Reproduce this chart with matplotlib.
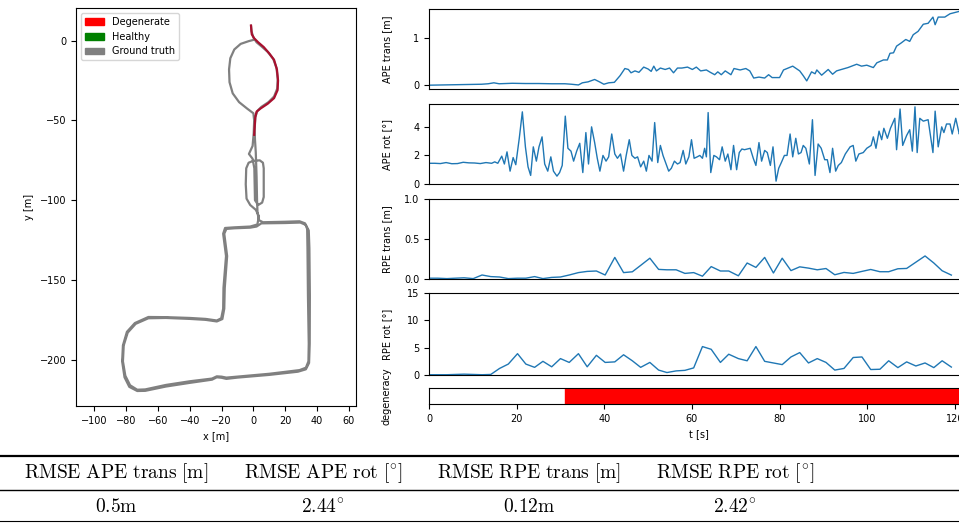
import matplotlib
matplotlib.use("Agg")
import matplotlib.pyplot as plt
from matplotlib.patches import Patch

plt.rcParams['font.family'] = ['DejaVu Sans']
plt.rcParams['font.size'] = 7
plt.rcParams['mathtext.fontset'] = 'cm'

# ---------------- data ----------------
# ground-truth trajectory (x, y) [m]
gt_x = [-1.5, -1.2, 0, 2, 5, 9, 12.5, 14.5, 15.3, 15, 13, 9.5, 5, 2.5, 1.2, 0.8, 1,
        1.5, 2, 2.3, 2.6, 3.5, 6,
        20, 29, 32.5, 33.8, 34, 34.3, 34.8, 34.6, 33, 29, 10, -10, -17, -20, -23, -26, -40, -55, -68, -73,
        -77.5, -80.5, -82, -81.5, -79, -74, -66, -55, -40, -30, -23, -19.5, -18.3, -18, -17, -16.5, -17.5,
        -18.3, -17, -12, -2, 2, 5,
        20, 29.5, 33, 34.8, 35.2, 35.5, 35.4, 35, 33, 28, 10, -10, -17, -20, -23, -26, -40, -55, -68, -73,
        -78, -81, -82.5, -82, -79.5, -74.5, -66, -55, -40, -30, -23, -20.2, -19, -18.8, -17.8, -17.2, -18.2,
        -19, -17.8, -12, -2, 2.5,
        3.5, 1.5, -2, -4.3, -4.8, -4.5, -3, 0, 4, 6, 6.5, 6.5, 5.5, 3, 1, 0.8, 0.6, -0.5, -2.8, -0.5, 0.2,
        0.5, 0,
        -4, -9, -13, -15, -15.3, -14.5, -12, -8, -3, 0]
gt_y = [9.5, 6, 2, -1, -3.5, -7, -11.5, -17, -24, -30, -35, -38.5, -41.5, -44, -48, -56, -62,
        -70, -85, -100, -108, -112.5, -113.8,
        -113.5, -113.2, -114.5, -118, -130, -160, -190, -201, -205, -206.5, -208.8, -210.6, -211.2, -210.6,
        -210.4, -211.8, -213.5, -215.8, -218.6, -218.8,
        -216, -210, -201, -191, -183, -177.5, -174, -173.8, -174.4, -175, -176, -174.5, -168, -155, -142,
        -135, -127, -121, -118, -117.6, -117.2, -116.5, -114.5,
        -114.3, -114, -115.5, -119, -130, -160, -190, -202, -206, -207.5, -209.5, -211.2, -212, -211.3,
        -211, -212.5, -214.5, -216.8, -219.5, -219.6,
        -217, -211, -201, -191, -182.5, -177, -173.2, -173.3, -173.8, -174.4, -175.4, -174, -168, -155, -142,
        -135, -127, -121, -117.4, -117, -116.5, -115.2,
        -110, -106, -103, -99, -90, -80, -76.5, -75.3, -75, -76.5, -80, -98, -101.5, -103, -100, -90, -80,
        -74, -71, -66, -58, -50, -45.5,
        -42.5, -38.5, -33, -26, -18, -11, -5.5, -2, -0.3, 0.5]

# estimated trajectory in degenerate state (x, y) [m]
deg_x = [-1.5, -1.3, -1, 0.5, 3, 6.5, 10, 13, 14.8, 15.5, 15.2, 13, 9, 4.5, 2, 1.2, 0.8, 0.5]
deg_y = [9.5, 7, 4, 1.5, -1, -4, -8, -12, -18, -25, -31, -36, -39.5, -42.5, -44.5, -48, -54, -59]

# APE translation [m]
ape_trans_t = [0, 3, 6, 9, 12, 13.5, 14.8, 16, 19, 22, 25, 28, 31, 32.5, 34.1, 35, 36.3, 37.8, 38.9,
               39.9, 41, 42.3, 43.6, 44.7, 45.5, 46.1, 47, 47.9, 49, 50, 50.7, 51.3, 51.9, 52.8, 53.9,
               54.9, 55.8, 56.7, 57.7, 59, 60.1, 61, 62, 63.3, 64.2, 65.2, 65.9, 66.7, 67.6, 68.9, 69.6,
               71, 72.3, 73.2, 74.1, 75.3, 76.6, 77.5, 78.3, 80, 80.9, 81.7, 83, 84.6, 85.4, 86.2, 87.3,
               88.1, 88.5, 89.6, 91.1, 92.1, 93, 94.1, 95.6, 97.6, 98.7, 99.9, 101.4, 102.2, 103.7,
               104.6, 105.2, 106, 106.7, 107.8, 108.8, 109.7, 110.5, 111.6, 112.8, 113.9, 115, 115.5,
               116.2, 117.7, 118.9, 121, 123]
ape_trans = [0.0, 0.005, 0.01, 0.015, 0.02, 0.03, 0.05, 0.03, 0.04, 0.035, 0.035, 0.03, 0.03, 0.02,
             0.005, 0.05, 0.07, 0.12, 0.07, 0.02, 0.05, 0.06, 0.2, 0.35, 0.33, 0.26, 0.3, 0.27, 0.38,
             0.34, 0.29, 0.4, 0.3, 0.36, 0.33, 0.36, 0.26, 0.36, 0.36, 0.38, 0.33, 0.38, 0.3, 0.32,
             0.27, 0.22, 0.28, 0.22, 0.3, 0.22, 0.35, 0.32, 0.35, 0.3, 0.15, 0.17, 0.15, 0.22, 0.16,
             0.16, 0.32, 0.35, 0.4, 0.30, 0.2, 0.09, 0.28, 0.24, 0.32, 0.21, 0.33, 0.23, 0.30, 0.33,
             0.37, 0.44, 0.40, 0.42, 0.37, 0.47, 0.53, 0.53, 0.67, 0.68, 0.82, 0.89, 0.96, 0.92, 1.06,
             1.13, 1.28, 1.30, 1.43, 1.27, 1.43, 1.43, 1.5, 1.55, 1.57]

# APE rotation [deg]
ape_rot_t = [0, 1.3, 2.6, 3.9, 5.2, 6.5, 7.8, 9.1, 10.4, 11.7, 13.0, 14.3, 15.0, 15.7,
             16.6, 17.2, 17.8, 18.5, 19.2, 19.8, 20.6, 21.3, 22.0, 22.6, 23.2, 23.8, 24.5, 25.1,
             25.8, 26.4, 27.1, 27.8, 28.4, 29.2, 29.8, 30.4, 31.1, 31.7, 32.4, 33.0, 33.7, 34.4,
             35.1, 35.8, 36.4, 37.1, 37.8, 38.4, 39.0, 39.7, 40.4, 41.0, 41.7, 42.4, 43.0, 43.7,
             44.4, 45.0, 45.7, 46.3, 47.0, 47.6, 48.3, 49.0, 49.6, 50.2, 50.9, 51.5, 52.2, 52.8,
             53.4, 54.0, 54.7, 55.3, 56.0, 56.7, 57.3, 58.0, 58.6, 59.3, 59.9, 60.5, 61.2, 61.8,
             62.4, 62.9, 63.3, 63.7, 64.3, 65.0, 65.6, 66.3, 66.9, 67.6, 68.2, 68.9, 69.5, 70.2,
             70.8, 71.4, 72.0, 72.7, 73.3, 74.0, 74.6, 75.3, 75.9, 76.6, 77.2, 77.9, 78.5, 79.2,
             79.8, 80.4, 81.1, 81.7, 82.4, 83.0, 83.7, 84.3,
             84.9, 85.4, 86.0, 86.8, 87.5, 88.1, 88.8, 89.5, 90.3, 90.9, 91.5, 92.1, 92.8, 93.4,
             94.1, 95.0, 96.1, 96.8, 97.4, 98.1, 99.1, 99.9, 100.9, 101.4, 102.0, 102.7, 103.3,
             103.8, 104.6, 105.3, 106.3, 106.7, 107.5, 108.1, 109.0, 109.7, 110.3, 110.9, 111.4,
             112.0, 112.8, 113.9, 115.0, 115.5, 116.2, 117.0, 117.5, 118.1, 118.9, 119.4, 120.2,
             121.0, 121.8]
ape_rot = [1.45, 1.45, 1.43, 1.5, 1.42, 1.43, 1.52, 1.48, 1.47, 1.43, 1.5, 1.45, 1.55, 1.45,
           1.95, 1.4, 2.25, 0.9, 1.85, 1.35, 3.2, 5.05, 2.6, 1.2, 0.6, 2.6, 1.6, 2.6,
           3.3, 1.4, 0.9, 1.9, 0.9, 0.55, 0.8, 1.3, 4.75, 2.5, 2.3, 1.6, 2.3, 2.85,
           0.8, 3.6, 1.4, 4.0, 2.9, 1.8, 0.9, 2.0, 1.6, 1.9, 3.5, 2.1, 1.8, 2.1,
           0.9, 2.0, 3.1, 2.0, 1.8, 1.9, 1.2, 1.6, 0.9, 2.0, 1.6, 4.3, 1.5, 2.7,
           2.0, 1.5, 0.9, 1.1, 1.6, 1.4, 1.5, 2.35, 1.4, 1.9, 3.1, 1.8, 1.9, 2.0,
           1.8, 2.5, 1.9, 5.0, 0.8, 2.0, 1.9, 1.7, 2.6, 1.6, 2.1, 1.0, 2.7, 1.0,
           2.2, 2.45, 2.4, 2.45, 2.5, 1.8, 1.3, 2.9, 1.6, 2.35, 2.2, 1.3, 2.6, 0.2,
           1.1, 1.5, 2.0, 2.0, 3.5, 1.9, 3.2, 2.1,
           2.2, 2.7, 2.5, 1.4, 4.5, 0.6, 2.8, 2.5, 1.7, 1.7, 0.8, 2.5, 0.9, 1.3,
           1.5, 2.1, 2.6, 2.7, 1.6, 2.1, 2.2, 2.5, 2.7, 3.3, 2.5, 3.7, 3.1,
           3.9, 3.2, 3.9, 4.6, 2.4, 5.25, 2.7, 3.4, 3.8, 2.3, 5.4, 2.2,
           4.6, 4.4, 4.5, 2.2, 5.1, 2.6, 4.0, 3.6, 4.2, 4.2, 3.5, 4.6,
           3.5, 4.1]

# RPE (time, translation [m], rotation [deg])
rpe_t = [0, 2.0, 4.1, 6.0, 8.0, 10.1, 12.1, 14.1, 16.1, 18.1, 20.2, 22.1, 24.1, 26.0, 28.0, 30.0,
         32.0, 34.1, 36.1, 38.2, 40.2, 42.4, 44.4, 46.4, 48.3, 50.4, 52.4, 54.3, 56.4, 58.4, 60.4,
         62.4, 64.4, 66.5, 68.4, 70.6, 72.6, 74.6, 76.6, 78.6, 80.6, 82.6, 84.6, 86.6, 88.6, 90.6,
         92.6, 94.7, 96.8, 98.8, 100.8, 102.9, 104.9, 107.0, 109.0, 111.1, 113.2, 115.2, 117.1, 119.2]
rpe_trans = [0.01, 0.01, 0.005, 0.01, 0.015, 0.005, 0.05, 0.03, 0.025, 0.005, 0.01, 0.01, 0.03, 0.005,
             0.02, 0.025, 0.05, 0.08, 0.095, 0.1, 0.05, 0.27, 0.08, 0.09, 0.17, 0.26, 0.12, 0.115,
             0.115, 0.07, 0.08, 0.035, 0.155, 0.1, 0.1, 0.04, 0.2, 0.145, 0.27, 0.075, 0.26, 0.105,
             0.152, 0.136, 0.115, 0.131, 0.053, 0.082, 0.07, 0.095, 0.119, 0.091, 0.091, 0.128,
             0.132, 0.21, 0.288, 0.2, 0.103, 0.049]
rpe_rot = [0.05, 0.05, 0.05, 0.1, 0.15, 0.1, 0.05, 0.1, 1.2, 2.0, 3.9, 2.0, 1.4, 2.5, 1.5, 3.0,
           2.3, 3.9, 1.5, 3.6, 2.3, 2.4, 3.7, 2.6, 1.4, 2.3, 0.9, 0.45, 0.75, 0.85, 1.3, 5.2, 4.7,
           2.3, 3.8, 3.0, 2.6, 5.2, 2.5, 2.2, 1.9, 3.3, 4.1, 2.2, 3.0, 2.3, 0.9, 1.2, 3.2, 3.3,
           1.0, 1.05, 2.6, 1.35, 2.4, 1.65, 2.2, 1.35, 2.6, 1.45]

# degenerate time intervals (start, duration) [s]
degenerate_intervals = [(31.0, 93.0)]

# summary table
table_headers = [r'$\mathrm{RMSE\ APE\ trans\ [m]}$', r'$\mathrm{RMSE\ APE\ rot\ [^{\circ}]}$',
                 r'$\mathrm{RMSE\ RPE\ trans\ [m]}$', r'$\mathrm{RMSE\ RPE\ rot\ [^{\circ}]}$']
table_values = [r'$0.5\mathrm{m}$', r'$2.44^{\circ}$', r'$0.12\mathrm{m}$', r'$2.42^{\circ}$']

# ---------------- figure ----------------
W, H = 959, 523
fig = plt.figure(figsize=(W / 100, H / 100), dpi=100)


def px_axes(l, t, r, b):
    return fig.add_axes([l / W, 1 - b / H, (r - l) / W, (b - t) / H])


# trajectory plot
ax = px_axes(76, 8, 356, 406)
ax.plot(gt_x, gt_y, color='#808080', lw=1.6, solid_joinstyle='round', solid_capstyle='round')
ax.plot(deg_x, deg_y, color='#a8102e', lw=1.6, solid_joinstyle='round')
ax.set_xlim(-111.5, 64.5)
ax.set_ylim(-229, 20.5)
ax.set_xticks([-100, -80, -60, -40, -20, 0, 20, 40, 60])
ax.set_yticks([0, -50, -100, -150, -200])
ax.set_xlabel('x [m]')
ax.set_ylabel('y [m]')
handles = [Patch(color='red', label='Degenerate'), Patch(color='green', label='Healthy'),
           Patch(color='gray', label='Ground truth')]
ax.legend(handles=handles, loc='upper left', fontsize=7)

# time series
L, R = 429, 968
tmax = 123
panels = [(9, 89), (104, 184), (199, 279), (293, 375)]
ax1 = px_axes(L, panels[0][0], R, panels[0][1])
ax2 = px_axes(L, panels[1][0], R, panels[1][1])
ax3 = px_axes(L, panels[2][0], R, panels[2][1])
ax4 = px_axes(L, panels[3][0], R, panels[3][1])
ax5 = px_axes(L, 388, R, 404)

ax1.plot(ape_trans_t, ape_trans, color='#1f77b4', lw=1.0)
ax1.set_ylim(-0.08, 1.6)
ax1.set_yticks([0, 1])
ax1.set_ylabel('APE trans [m]')

ax2.plot(ape_rot_t, ape_rot, color='#1f77b4', lw=1.0)
ax2.set_ylim(0, 5.6)
ax2.set_yticks([0, 2, 4])
ax2.set_ylabel('APE rot [°]')

ax3.plot(rpe_t, rpe_trans, color='#1f77b4', lw=1.0)
ax3.set_ylim(0, 1.0)
ax3.set_yticks([0.0, 0.5, 1.0])
ax3.set_ylabel('RPE trans [m]')

ax4.plot(rpe_t, rpe_rot, color='#1f77b4', lw=1.0)
ax4.set_ylim(0, 15)
ax4.set_yticks([0, 5, 10, 15])
ax4.set_ylabel('RPE rot [°]')

ax5.broken_barh(degenerate_intervals, (0, 1), color='red')
ax5.set_ylim(0, 1)
ax5.set_yticks([])
ax5.set_ylabel('degeneracy')
ax5.set_xlabel('t [s]')
ax5.set_xticks([0, 20, 40, 60, 80, 100, 120])

for a in (ax1, ax2, ax3, ax4, ax5):
    a.set_xlim(0, tmax)
    a.yaxis.set_label_coords((392 - L) / (R - L), 0.5)
for a in (ax1, ax2, ax3, ax4):
    a.tick_params(axis='x', bottom=False, labelbottom=False)

# table
axt = fig.add_axes([0, 0, 1, 1], zorder=-1)
axt.set_xlim(0, W)
axt.set_ylim(H, 0)
axt.axis('off')
axt.plot([0, W], [456, 456], color='black', lw=1.6)
axt.plot([0, W], [490, 490], color='black', lw=1.0)
axt.plot([0, W], [521, 521], color='black', lw=0.8)
col_x = [116, 323, 529, 735]
for cx, h, v in zip(col_x, table_headers, table_values):
    axt.text(cx, 473, h, ha='center', va='center', fontsize=14)
    axt.text(cx, 507, v, ha='center', va='center', fontsize=14)

fig.savefig('out.png', dpi=100)
